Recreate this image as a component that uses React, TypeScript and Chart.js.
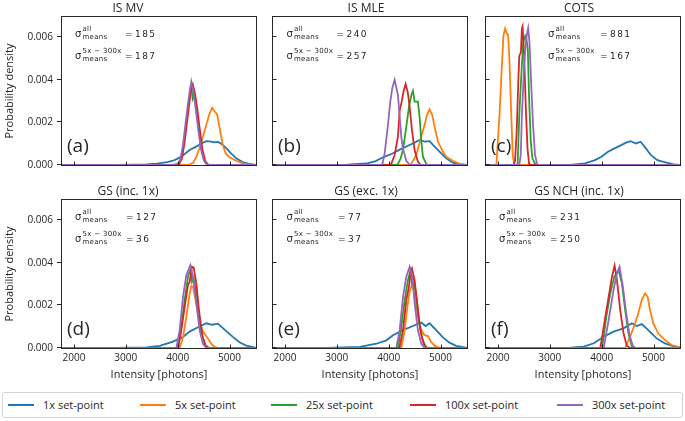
import React, { useEffect, useRef } from 'react';
import { Chart, registerables } from 'chart.js';

Chart.register(...registerables);

// ---------- data (probability density in units of 1e-3 per photon) ----------
const seriesLabels = ['1x set-point', '5x set-point', '25x set-point', '100x set-point', '300x set-point'];
const panelTitles = ['IS MV', 'IS MLE', 'COTS', 'GS (inc. 1x)', 'GS (exc. 1x)', 'GS NCH (inc. 1x)'];
const panelLetters = ['(a)', '(b)', '(c)', '(d)', '(e)', '(f)'];
const sigmaAll = [185, 240, 881, 127, 77, 231];
const sigma5x300x = [187, 257, 167, 36, 37, 250];
const xTickValues = [2000, 3000, 4000, 5000];
const yTickValues = [0, 2, 4, 6];

// (a) IS MV
const isMv1x = [[1770,0],[2800,0],[3200,0.02],[3400,0.03],[3600,0.06],[3800,0.13],[3910,0.2],[4000,0.3],[4100,0.45],[4230,0.7],[4350,0.85],[4450,1.0],[4550,1.12],[4650,1.1],[4700,1.06],[4780,1.08],[4850,0.98],[4940,0.78],[5030,0.55],[5130,0.31],[5250,0.14],[5385,0.05],[5510,0.01]];
const isMv5x = [[1770,0],[4200,0],[4300,0.1],[4360,0.39],[4420,0.78],[4490,1.35],[4550,1.87],[4610,2.38],[4665,2.68],[4710,2.52],[4760,2.38],[4810,1.72],[4870,0.94],[4930,0.52],[5000,0.36],[5130,0.2],[5250,0.08],[5400,0.02],[5510,0]];
const isMv25x = [[1770,0],[3950,0],[4020,0.05],[4070,0.3],[4120,1.0],[4170,2.0],[4220,3.0],[4260,3.8],[4290,3.1],[4320,3.3],[4360,2.6],[4410,1.6],[4460,0.7],[4510,0.2],[4560,0.03],[4610,0],[5510,0]];
const isMv100x = [[1770,0],[3950,0],[4030,0.05],[4080,0.3],[4130,1.0],[4180,2.0],[4230,3.0],[4270,3.7],[4290,3.8],[4330,3.4],[4380,2.6],[4430,1.6],[4480,0.7],[4530,0.2],[4580,0.03],[4630,0],[5510,0]];
const isMv300x = [[1770,0],[3900,0],[4000,0.05],[4050,0.25],[4100,0.9],[4150,1.9],[4200,2.9],[4240,3.6],[4265,3.86],[4300,3.5],[4350,2.6],[4400,1.6],[4450,0.75],[4500,0.25],[4550,0.05],[4600,0],[5510,0]];

// (b) IS MLE
const isMle1x = [[1770,0],[2800,0],[3200,0.02],[3571,0.07],[3750,0.18],[3891,0.36],[4083,0.55],[4212,0.72],[4404,0.94],[4500,1.05],[4596,1.17],[4700,1.1],[4788,1.12],[4853,0.94],[4981,0.63],[5109,0.31],[5237,0.11],[5400,0.02],[5510,0]];
const isMle5x = [[1770,0],[4400,0],[4436,0.05],[4532,0.47],[4628,1.33],[4692,1.87],[4737,2.34],[4788,2.61],[4840,2.34],[4885,1.8],[4949,1.1],[5045,0.63],[5109,0.39],[5237,0.2],[5365,0.06],[5510,0]];
const isMle25x = [[1770,0],[4150,0],[4179,0.05],[4230,0.3],[4275,0.7],[4340,1.8],[4391,2.73],[4436,3.27],[4468,3.48],[4500,2.97],[4564,2.97],[4596,2.26],[4628,1.17],[4660,0.39],[4724,0.05],[4760,0],[5510,0]];
const isMle100x = [[1770,0],[4000,0],[4051,0.05],[4115,0.47],[4179,1.33],[4212,2.58],[4244,2.89],[4289,3.47],[4327,3.8],[4372,3.36],[4404,2.73],[4449,1.64],[4500,0.7],[4564,0.15],[4620,0],[5510,0]];
const isMle300x = [[1770,0],[3840,0],[3880,0.05],[3923,0.55],[3987,1.9],[4032,3.0],[4070,3.6],[4115,4.0],[4150,3.6],[4179,3.28],[4212,2.26],[4244,1.3],[4275,0.78],[4340,0.2],[4400,0.02],[4450,0],[5510,0]];

// (c) COTS
const cots1x = [[1770,0],[3400,0],[3678,0.08],[3869,0.23],[3996,0.39],[4122,0.62],[4249,0.78],[4376,0.93],[4471,1.05],[4560,1.12],[4660,1.01],[4750,1.09],[4830,0.85],[4947,0.47],[5073,0.23],[5232,0.12],[5390,0.03],[5510,0]];
const cots5x = [[1770,0],[1970,0],[2030,2.33],[2076,4.65],[2106,6.05],[2139,6.4],[2171,6.17],[2196,6.1],[2221,4.96],[2253,2.64],[2285,0.47],[2316,0],[5510,0]];
const cots25x = [[1770,0],[2360,0],[2380,0.05],[2411,2.33],[2443,3.87],[2487,5.74],[2525,6.05],[2551,5.9],[2576,5.43],[2601,3.1],[2633,1.1],[2665,0.3],[2728,0],[5510,0]];
const cots100x = [[1770,0],[2300,0],[2330,0.2],[2361,1.55],[2392,3.87],[2411,5.1],[2443,5.3],[2462,6.4],[2475,6.5],[2506,5.1],[2538,2.64],[2570,0.78],[2601,0.05],[2640,0],[5510,0]];
const cots300x = [[1770,0],[2411,0],[2440,0.5],[2462,2.33],[2506,4.65],[2538,5.74],[2563,6.2],[2583,6.43],[2608,5.74],[2640,3.87],[2677,1.86],[2715,0.47],[2760,0],[5510,0]];

// (d) GS (inc. 1x)
const gsInc1x = [[1770,0],[2800,0],[3397,0.03],[3654,0.1],[3910,0.3],[4103,0.52],[4231,0.77],[4391,0.97],[4552,1.16],[4667,1.09],[4776,1.14],[4904,0.86],[5064,0.52],[5192,0.27],[5321,0.11],[5481,0.03],[5510,0.02]];
const gsInc5x = [[1770,0],[4038,0],[4103,0.5],[4167,1.47],[4231,2.56],[4263,2.9],[4295,2.88],[4346,2.25],[4410,1.31],[4487,0.77],[4583,0.45],[4647,0.2],[4712,0.05],[4780,0],[5510,0]];
const gsInc25x = [[1770,0],[4006,0],[4071,1.0],[4135,2.25],[4199,3.34],[4250,3.73],[4276,3.1],[4308,3.26],[4360,2.56],[4410,1.47],[4474,0.5],[4538,0.1],[4600,0],[5510,0]];
const gsInc100x = [[1770,0],[4006,0],[4071,0.84],[4135,1.94],[4199,2.95],[4231,3.1],[4276,3.81],[4308,3.78],[4360,3.03],[4410,1.78],[4474,0.6],[4538,0.12],[4600,0],[5510,0]];
const gsInc300x = [[1770,0],[3975,0],[4038,0.84],[4103,2.4],[4167,3.42],[4244,3.88],[4295,3.34],[4360,2.1],[4423,0.84],[4487,0.2],[4550,0],[5510,0]];

// (e) GS (exc. 1x)
const gsExc1x = [[1770,0],[2800,0],[3442,0.05],[3763,0.2],[3955,0.36],[4083,0.6],[4276,0.84],[4468,1.03],[4628,1.19],[4712,1.03],[4788,1.16],[4917,0.84],[5045,0.5],[5173,0.25],[5301,0.1],[5462,0.03],[5510,0.02]];
const gsExc5x = [[1770,0],[4244,0],[4308,0.84],[4353,1.78],[4404,2.64],[4436,2.88],[4468,2.88],[4513,2.25],[4564,1.47],[4628,0.84],[4692,0.6],[4756,0.56],[4820,0.28],[4885,0.11],[4949,0.03],[5010,0],[5510,0]];
const gsExc25x = [[1770,0],[4180,0],[4244,1.0],[4308,2.25],[4372,3.18],[4417,3.6],[4449,3.0],[4481,3.18],[4532,2.4],[4583,1.31],[4647,0.45],[4712,0.05],[4770,0],[5510,0]];
const gsExc100x = [[1770,0],[4180,0],[4212,0.05],[4276,0.84],[4340,2.25],[4391,2.88],[4423,3.58],[4449,3.73],[4500,3.18],[4551,2.1],[4609,0.84],[4673,0.2],[4740,0],[5510,0]];
const gsExc300x = [[1770,0],[4148,0],[4212,0.84],[4276,2.4],[4340,3.34],[4404,3.8],[4455,3.34],[4500,2.1],[4564,0.84],[4628,0.2],[4690,0],[5510,0]];

// (f) GS NCH (inc. 1x)
const gsNch1x = [[1770,0],[2800,0],[3400,0.02],[3656,0.06],[3847,0.22],[4038,0.53],[4229,0.77],[4421,0.92],[4581,1.16],[4677,1.03],[4772,1.12],[4899,0.84],[5059,0.45],[5218,0.22],[5378,0.09],[5505,0.03]];
const gsNch5x = [[1770,0],[4453,0],[4549,0.53],[4644,1.16],[4707,1.63],[4772,2.25],[4836,2.56],[4887,2.4],[4931,1.78],[4994,1.16],[5090,0.69],[5218,0.38],[5346,0.14],[5472,0.05],[5510,0.03]];
const gsNch25x = [[1770,0],[4007,0],[4090,1.47],[4166,2.56],[4243,3.34],[4326,3.66],[4390,3.03],[4453,1.78],[4516,0.69],[4580,0.1],[4640,0],[5510,0]];
const gsNch100x = [[1770,0],[3975,0],[4071,1.47],[4134,2.4],[4199,3.34],[4249,3.86],[4294,3.19],[4358,1.78],[4421,0.69],[4485,0.1],[4550,0],[5510,0]];
const gsNch300x = [[1770,0],[4038,0],[4134,1.31],[4229,2.72],[4294,3.5],[4345,3.81],[4409,2.88],[4473,1.63],[4536,0.61],[4600,0.1],[4660,0],[5510,0]];

const panelCurves = [
  [isMv1x, isMv5x, isMv25x, isMv100x, isMv300x],
  [isMle1x, isMle5x, isMle25x, isMle100x, isMle300x],
  [cots1x, cots5x, cots25x, cots100x, cots300x],
  [gsInc1x, gsInc5x, gsInc25x, gsInc100x, gsInc300x],
  [gsExc1x, gsExc5x, gsExc25x, gsExc100x, gsExc300x],
  [gsNch1x, gsNch5x, gsNch25x, gsNch100x, gsNch300x],
];

// ---------- styles / layout ----------
const seriesColors = ['#1f77b4', '#ff7f0e', '#2ca02c', '#d62728', '#9467bd'];
const INK = '#262626';
const FONT = '"Open Sans", "DejaVu Sans", sans-serif';
const MATH = '"DejaVu Sans", sans-serif';
const X_MIN = 1770;
const X_MAX = 5510;
const Y_MAX = 6.94;
const colLefts = [62, 273, 486];
const rowTops = [17, 200];
const PLOT_W = 194;
const PLOT_H = 148;
const TITLE_H = 17;
const PAD_R = 3;
const sigmaDx = [13, 13.5, 62, 13, 13.5, 13];
const eqDx = [63, 63.5, 114, 64, 65, 64];
const legendLefts = [8, 140, 271, 410, 557];

const panelDecor = {
  id: 'panelDecor',
  afterDatasetsDraw(chart: any, _args: any, opts: any) {
    const idx: number = opts.idx;
    const col = idx % 3;
    const { ctx, chartArea: a, scales } = chart;
    ctx.save();
    ctx.strokeStyle = INK;
    ctx.lineWidth = 1;
    ctx.strokeRect(a.left - 0.5, a.top - 0.5, a.right - a.left + 1, a.bottom - a.top + 1);
    ctx.beginPath();
    for (const t of scales.x.ticks) {
      const px = Math.round(scales.x.getPixelForValue(t.value)) + 0.5;
      ctx.moveTo(px, a.bottom);
      ctx.lineTo(px, a.bottom - 3.5);
    }
    for (const t of scales.y.ticks) {
      const py = Math.round(scales.y.getPixelForValue(t.value)) - 0.5;
      if (col === 0) {
        ctx.moveTo(a.left - 1, py);
        ctx.lineTo(a.left - 5, py);
      } else {
        ctx.moveTo(a.left, py);
        ctx.lineTo(a.left + 3.5, py);
      }
    }
    ctx.stroke();

    ctx.fillStyle = INK;
    ctx.textAlign = 'left';
    ctx.textBaseline = 'alphabetic';
    ctx.font = `19px ${FONT}`;
    ctx.fillText(panelLetters[idx], a.left + 5, a.bottom - 13.5);

    const sx = a.left + sigmaDx[idx];
    const ex = a.left + eqDx[idx];
    const lines: [number, string, number][] = [
      [a.top + 19.5, 'all', sigmaAll[idx]],
      [a.top + 41.5, '5x \u2212 300x', sigma5x300x[idx]],
    ];
    for (const [b, sup, val] of lines) {
      ctx.letterSpacing = '0px';
      ctx.font = `10px ${MATH}`;
      ctx.fillText('\u03c3', sx, b);
      ctx.font = `7px ${MATH}`;
      ctx.letterSpacing = '0.3px';
      ctx.fillText(sup, sx + 7.5, b - 5.5);
      ctx.fillText('means', sx + 7.5, b + 2.5);
      ctx.font = `9px ${MATH}`;
      ctx.letterSpacing = '0px';
      ctx.fillText('=', ex, b);
      ctx.letterSpacing = '1.4px';
      ctx.fillText(String(val), ex + 10, b);
    }
    ctx.restore();
  },
};

function Panel({ idx }: { idx: number }) {
  const ref = useRef<HTMLCanvasElement>(null);
  const col = idx % 3;
  const row = Math.floor(idx / 3);
  const yw = col === 0 ? 62 : 8;
  const xh = row === 0 ? 4 : 34;
  const left = colLefts[col] - yw;
  const top = rowTops[row] - TITLE_H;
  const width = yw + PLOT_W + PAD_R;
  const height = TITLE_H + PLOT_H + xh;

  useEffect(() => {
    const chart = new Chart(ref.current as HTMLCanvasElement, {
      type: 'line',
      data: {
        datasets: panelCurves[idx].map((pts, s) => ({
          label: seriesLabels[s],
          data: pts as any,
          borderColor: seriesColors[s],
          backgroundColor: seriesColors[s],
          borderWidth: 1.8,
          pointRadius: 0,
          tension: 0,
          fill: false,
          order: 4 - s,
        })),
      },
      options: {
        animation: false,
        responsive: false,
        maintainAspectRatio: false,
        devicePixelRatio: 1,
        layout: { padding: { left: 0, top: 0, right: PAD_R, bottom: 0 } },
        plugins: {
          legend: { display: false },
          tooltip: { enabled: false },
          title: {
            display: true,
            text: panelTitles[idx],
            color: INK,
            font: { family: FONT, size: 12, weight: 'normal', lineHeight: 1 },
            padding: { top: 3, bottom: 2 },
          },
          panelDecor: { idx },
        } as any,
        scales: {
          x: {
            type: 'linear',
            min: X_MIN,
            max: X_MAX,
            grid: { display: false, drawTicks: false, tickLength: 0 },
            border: { display: false },
            afterBuildTicks: (s: any) => { s.ticks = xTickValues.map((v) => ({ value: v })); },
            ticks: {
              display: row === 1,
              color: INK,
              font: { family: FONT, size: 10 },
              padding: 4,
              maxRotation: 0,
              autoSkip: false,
              callback: (v: any) => String(v),
            },
            title: {
              display: row === 1,
              text: 'Intensity [photons]',
              color: INK,
              font: { family: FONT, size: 11 },
              padding: { top: 0, bottom: 1 },
            },
            afterFit: (s: any) => { s.height = xh; s.paddingLeft = 0; s.paddingRight = 0; },
          },
          y: {
            type: 'linear',
            min: 0,
            max: Y_MAX,
            grid: { display: false, drawTicks: false, tickLength: 0 },
            border: { display: false },
            afterBuildTicks: (s: any) => { s.ticks = yTickValues.map((v) => ({ value: v })); },
            ticks: {
              display: col === 0,
              color: INK,
              font: { family: FONT, size: 10 },
              padding: 9,
              autoSkip: false,
              callback: (v: any) => (Number(v) / 1000).toFixed(3),
            },
            title: {
              display: col === 0,
              text: 'Probability density',
              color: INK,
              font: { family: FONT, size: 11 },
              padding: { top: 3, bottom: 0 },
            },
            afterFit: (s: any) => { s.width = yw; s.paddingTop = 0; s.paddingBottom = 0; },
          },
        },
      } as any,
      plugins: [panelDecor],
    });
    return () => chart.destroy();
  }, []);

  return (
    <canvas
      ref={ref}
      width={width}
      height={height}
      style={{ position: 'absolute', left, top, width, height }}
    />
  );
}

export default function App() {
  return (
    <div style={{ position: 'absolute', left: 0, top: 0, width: 685, height: 421, background: '#fff', overflow: 'hidden' }}>
      {[0, 1, 2, 3, 4, 5].map((i) => <Panel key={i} idx={i} />)}
      <div
        style={{
          position: 'absolute', left: 2, top: 392, width: 681, height: 26,
          border: '1px solid #d4d4d4', borderRadius: 3, boxSizing: 'border-box',
        }}
      >
        {seriesLabels.map((lab, s) => (
          <div key={lab}>
            <div style={{ position: 'absolute', left: legendLefts[s] - 3, top: 11, width: 26, height: 2, background: seriesColors[s] }} />
            <div style={{ position: 'absolute', left: legendLefts[s] + 32, top: 3, fontFamily: FONT, fontSize: 11, lineHeight: '17px', color: INK, whiteSpace: 'nowrap' }}>{lab}</div>
          </div>
        ))}
      </div>
    </div>
  );
}
